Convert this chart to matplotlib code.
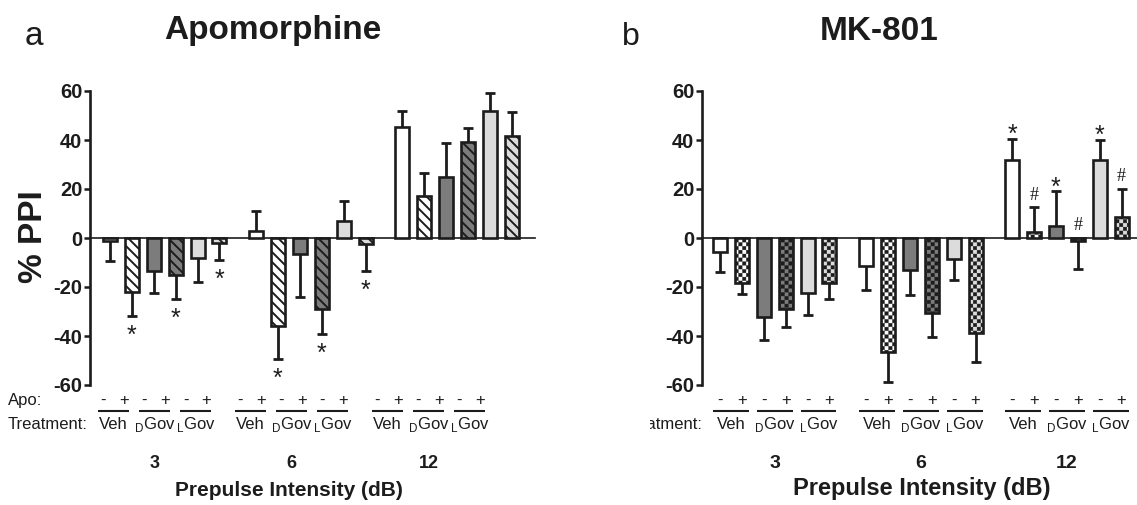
import warnings
warnings.filterwarnings('ignore')
import numpy as np
import matplotlib
matplotlib.use('Agg')
import matplotlib.pyplot as plt
import matplotlib.hatch as mhatch
from matplotlib.path import Path
from matplotlib.patches import Patch
from matplotlib.transforms import blended_transform_factory, Bbox, TransformedBbox

# ---------------- data ----------------
intensities = ['3', '6', '12']
treatments = ['Veh', r'$_{\mathregular{D}}$Gov', r'$_{\mathregular{L}}$Gov']
doses = ['-', '+']

apo_mean = [[-1.4, -22.0, -13.6, -15.2, -8.2, -2.0],
            [3.0, -36.0, -6.5, -29.0, 7.0, -2.5],
            [45.5, 17.0, 25.0, 39.0, 52.0, 41.8]]
apo_sem = [[8.1, 9.8, 8.7, 9.6, 9.8, 7.0],
           [8.0, 13.4, 17.5, 10.2, 8.0, 11.0],
           [6.5, 9.7, 13.6, 6.0, 7.2, 9.7]]
apo_marks = [['', '*', '', '*', '', '*'],
             ['', '*', '', '*', '', '*'],
             ['', '', '', '', '', '']]

mk_mean = [[-5.6, -18.3, -32.2, -28.8, -22.3, -18.3],
           [-11.4, -46.5, -12.9, -30.6, -8.7, -38.8],
           [32.0, 2.4, 4.7, -1.2, 32.0, 8.7]]
mk_sem = [[8.1, 4.5, 9.5, 7.5, 9.2, 6.7],
          [10.0, 12.3, 10.5, 9.8, 8.3, 11.8],
          [8.3, 10.1, 14.3, 11.3, 7.9, 11.3]]
mk_marks = [['', '', '', '', '', ''],
            ['', '', '', '', '', ''],
            ['*', '#', '*', '#', '*', '#']]

yticks = [-60, -40, -20, 0, 20, 40, 60]

# ---------------- style ----------------
plt.rcParams['font.family'] = ['Liberation Sans', 'DejaVu Sans']
plt.rcParams['axes.unicode_minus'] = False
INK = '#1c1c1c'
FACES = ['white', 'white', '#7c7c7c', '#7c7c7c', '#dcdcdc', '#dcdcdc']

PER_ARTIST = hasattr(Patch, 'set_hatch_linewidth')
HATCH_LW_DIAG = 1.4
HATCH_LW_CHECK = 0.3 if PER_ARTIST else HATCH_LW_DIAG
plt.rcParams['hatch.linewidth'] = HATCH_LW_DIAG


class DiagHatch(mhatch.HatchPatternBase):
    """back-diagonal stripes, 20 per inch per 'd'"""
    def __init__(self, hatch, density):
        self.num_lines = 20 * hatch.count('d')
        self.num_vertices = (self.num_lines + 1) * 2 if self.num_lines else 0

    def set_vertices_and_codes(self, vertices, codes):
        steps = np.linspace(-0.5, 0.5, self.num_lines + 1)
        vertices[0::2, 0] = 0.0 + steps
        vertices[0::2, 1] = 1.0 + steps
        vertices[1::2, 0] = 1.0 + steps
        vertices[1::2, 1] = 0.0 + steps
        codes[0::2] = Path.MOVETO
        codes[1::2] = Path.LINETO


class CheckerHatch(mhatch.HatchPatternBase):
    """checkerboard of filled squares, 26 cells per inch per 'c'"""
    def __init__(self, hatch, density):
        self.n = 26 * hatch.count('c')
        self.cells = [(i, j) for i in range(self.n) for j in range(self.n)
                      if (i + j) % 2 == 0]
        self.num_vertices = 5 * len(self.cells)

    def set_vertices_and_codes(self, vertices, codes):
        size = 1.0 / self.n
        sh = HATCH_LW_CHECK / 72.0 / 2.0
        k = 0
        for i, j in self.cells:
            x0, x1 = i * size + sh, (i + 1) * size - sh
            y0, y1 = j * size + sh, (j + 1) * size - sh
            vertices[k:k + 5] = [(x0, y0), (x1, y0), (x1, y1), (x0, y1), (x0, y0)]
            codes[k:k + 5] = [Path.MOVETO, Path.LINETO, Path.LINETO,
                              Path.LINETO, Path.CLOSEPOLY]
            k += 5


mhatch._hatch_types.append(DiagHatch)
mhatch._hatch_types.append(CheckerHatch)

W, H = 1137, 505
fig = plt.figure(figsize=(W / 100, H / 100), dpi=100)


def px_rect(l, t, r, b):
    return [l / W, 1 - b / H, (r - l) / W, (b - t) / H]


def fy(py):
    return 1 - py / H


GROUP_STEP = 6.67
BAR_W = 0.64


def panel(ax, means, sems, marks, hatch, hatch_lw, xlim, lab_scale, lab_shift,
          line_pad, grp_size, xlabel_size, xlabel_x):
    x_all, m_all, s_all = [], [], []
    for g in range(len(intensities)):
        xs = [g * GROUP_STEP + i for i in range(6)]
        x_all += xs
        m_all += means[g]
        s_all += sems[g]
        hatches = [None, hatch, None, hatch, None, hatch]
        bars = ax.bar(xs, means[g], width=BAR_W, color=FACES, edgecolor=INK,
                      linewidth=1.9, zorder=3)
        for b, h in zip(bars, hatches):
            if h:
                b.set_hatch(h)
                if PER_ARTIST:
                    b.set_hatch_linewidth(hatch_lw)
    x_all = np.array(x_all)
    m_all = np.array(m_all)
    s_all = np.array(s_all)
    lower = np.where(m_all < 0, s_all, 0.0)
    upper = np.where(m_all >= 0, s_all, 0.0)
    _, caps, _ = ax.errorbar(x_all, m_all, yerr=[lower, upper], fmt='none',
                             ecolor=INK, elinewidth=2.0, capsize=3.6,
                             capthick=2.0, zorder=2)
    for cl in caps:
        yd = np.asarray(cl.get_ydata())
        keep = [k for k in range(len(m_all)) if abs(yd[k] - m_all[k]) > 1e-9]
        if keep:
            cl.set_markevery(keep)
        else:
            cl.set_visible(False)

    # significance marks
    for g in range(len(intensities)):
        for i in range(6):
            s = marks[g][i]
            if not s:
                continue
            x = g * GROUP_STEP + i
            m, e = means[g][i], sems[g][i]
            if s == '*' and m < 0:
                ax.annotate('*', xy=(x, m - e), xytext=(0, -19.5),
                            textcoords='offset points', ha='center',
                            va='baseline', fontsize=18, color=INK)
            elif s == '*':
                ax.annotate('*', xy=(x, m + e), xytext=(0, -2.2),
                            textcoords='offset points', ha='center',
                            va='baseline', fontsize=18, color=INK)
            else:
                top = m + e if m > 0 else 0.0
                ax.annotate(s, xy=(x, top), xytext=(0, 5.6),
                            textcoords='offset points', ha='center',
                            va='baseline', fontsize=13, color=INK,
                            family='Liberation Serif')

    ax.set_xlim(*xlim)
    ax.set_ylim(-60, 60)
    ax.set_yticks(yticks)
    ax.set_yticklabels([str(t) for t in yticks], fontsize=14.5,
                       fontweight='bold')
    ax.tick_params(axis='y', length=4.5, width=1.8, pad=1.0, color=INK,
                   labelcolor=INK)
    ax.tick_params(axis='x', bottom=False, labelbottom=False)
    for sp in ('top', 'right'):
        ax.spines[sp].set_visible(False)
    ax.spines['bottom'].set_position(('data', 0))
    ax.spines['bottom'].set_linewidth(1.2)
    ax.spines['bottom'].set_color(INK)
    ax.spines['left'].set_linewidth(1.9)
    ax.spines['left'].set_color(INK)
    ax.patch.set_alpha(0)

    # label table under the axis
    tr = blended_transform_factory(ax.transData, fig.transFigure)

    def lx(x):
        return lab_scale * x + lab_shift

    for g in range(len(intensities)):
        for t in range(len(treatments)):
            x_minus = g * GROUP_STEP + 2 * t
            x_plus = x_minus + 1
            for xx, d in zip((x_minus, x_plus), doses):
                ax.text(lx(xx), fy(405), d, transform=tr, ha='center',
                        va='baseline', fontsize=12, color=INK, clip_on=False)
            ax.plot([lx(x_minus) - line_pad, lx(x_plus) + line_pad],
                    [fy(410.5), fy(410.5)], transform=tr, color=INK, lw=1.5,
                    clip_on=False, solid_capstyle='butt')
            ax.text(lx(x_minus + 0.5), fy(429), treatments[t], transform=tr,
                    ha='center', va='baseline', fontsize=12, color=INK,
                    clip_on=False)
        xc = g * GROUP_STEP + 2.5
        ax.text(lx(xc), fy(468), intensities[g], transform=tr, ha='center',
                va='baseline', fontsize=grp_size, fontweight='bold', color=INK,
                clip_on=False)
    fig.text(xlabel_x / W, fy(495.5), 'Prepulse Intensity (dB)', ha='center',
             va='baseline', fontsize=xlabel_size, fontweight='bold', color=INK)


axL = fig.add_axes(px_rect(90, 91, 535, 385))
axR = fig.add_axes(px_rect(702, 91, 1147, 385))

panel(axL, apo_mean, apo_sem, apo_marks, 'd', HATCH_LW_DIAG,
      (-0.913, 19.41), 0.9375, -0.30, 0.23, 13, 15, 288.5)
panel(axR, mk_mean, mk_sem, mk_marks, 'c', HATCH_LW_CHECK,
      (-0.822, 19.5), 1.0, 0.0, 0.32, 14, 17, 922)

# titles and panel letters
fig.text(272.5 / W, fy(39), 'Apomorphine', ha='center', va='baseline',
         fontsize=24, fontweight='bold', color=INK)
fig.text(879.5 / W, fy(40), 'MK-801', ha='center', va='baseline',
         fontsize=24, fontweight='bold', color=INK)
fig.text(25 / W, fy(45), 'a', ha='left', va='baseline', fontsize=24, color=INK)
fig.text(622 / W, fy(45), 'b', ha='left', va='baseline', fontsize=23, color=INK)

# y labels
fig.text(33 / W, fy(237), '% PPI', rotation=90, ha='center', va='center',
         fontsize=24, fontweight='bold', color=INK)
fig.text(8 / W, fy(405), 'Apo:', ha='left', va='baseline', fontsize=12, color=INK)
fig.text(8 / W, fy(429), 'Treatment:', ha='left', va='baseline', fontsize=12,
         color=INK)

# right panel row labels (cut at the panel edge, as in the source)
clipbox = TransformedBbox(Bbox.from_extents(650 / W, 0, 1, 1), fig.transFigure)
for t in [fig.text(641 / W, fy(237), '% PPI', rotation=90, ha='center',
                   va='center', fontsize=24, fontweight='bold', color=INK),
          fig.text(622 / W, fy(405), 'MK:', ha='left', va='baseline',
                   fontsize=12, color=INK),
          fig.text(623 / W, fy(429), 'Treatment:', ha='left', va='baseline',
                   fontsize=12, color=INK)]:
    t.set_clip_box(clipbox)
    t.set_clip_on(True)

fig.savefig('out.png', dpi=100)
